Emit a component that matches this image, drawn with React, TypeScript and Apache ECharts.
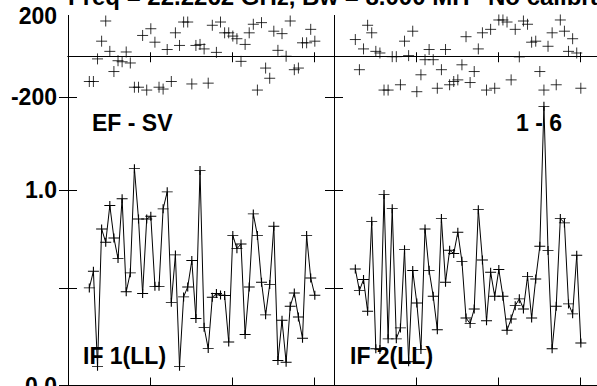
import React, { useEffect, useRef } from "react";
import * as echarts from "echarts";

// Time of each sample (minutes from start of the plotted interval)
const times = [
  2.6, 3.1, 3.6, 4.1, 4.6, 5.1, 5.6, 6.1, 6.6, 7.1, 7.6, 8.1, 8.6, 9.1,
  9.6, 10.1, 10.6, 11.1, 11.6, 12.1, 12.6, 13.1, 13.6, 14.1, 14.6, 15.1,
  15.6, 16.1, 16.6, 17.1, 17.6, 18.1, 18.6, 19.1, 19.6, 20.1, 20.6, 21.1,
  21.6, 22.1, 22.6, 23.1, 23.6, 24.1, 24.6, 25.1, 25.6, 26.1, 26.6, 27.1,
  27.6, 28.1, 28.6, 29.1, 29.6, 30.1,
];

// IF 1 (LL) amplitude
const amp1 = [
  0.5, 0.585, 0.098, 0.802, 0.734, 0.922, 0.756, 0.65, 0.957, 0.48,
  0.577, 1.111, 0.853, 0.471, 0.853, 0.867, 0.508, 0.508, 0.905, 0.992,
  0.426, 0.669, 0.098, 0.454, 0.505, 0.64, 0.343, 1.101, 0.298, 0.189,
  0.452, 0.471, 0.463, 0.461, 0.223, 0.769, 0.701, 0.725, 0.261, 0.505,
  0.879, 0.769, 0.529, 0.362, 0.517, 0.816, 0.128, 0.334, 0.119, 0.406,
  0.474, 0.351, 0.242, 0.768, 0.551, 0.462,
];

// IF 2 (LL) amplitude
const amp2 = [
  0.597, 0.486, 0.543, 0.38, 0.841, 0.188, 0.184, 0.978, 0.239, 0.906,
  0.239, 0.295, 0.696, 0.122, 0.589, 0.423, 0.184, 0.802, 0.59, 0.457,
  0.286, 0.855, 0.529, 0.693, 0.676, 0.785, 0.636, 0.346, 0.317, 0.392,
  0.901, 0.643, 0.332, 0.58, 0.457, 0.594, 0.457, 0.283, 0.341, 0.409,
  0.444, 0.392, 0.559, 0.346, 0.546, 0.713, 1.43, 0.691, 0.188, 0.406,
  0.855, 0.833, 0.418, 0.367, 0.667, 0.218,
];

// IF 1 (LL) phase, degrees
const phase1 = [
  -124, -124, -13, 74, 173, 24, -75, -22, -27, 21,
  -33, -152, -152, 102, -166, 135, 69, -152, -161, 33,
  -124, 115, 53, 168, 168, -136, 53, 58, 36, -132,
  152, 19, 168, 115, 115, 99, 86, -25, 58, 115,
  157, -166, 165, -58, -108, 123, 29, 111, 0, 173,
  -66, -58, 66, 66, 132, 74,
];

// IF 2 (LL) phase, degrees
const phase2 = [
  82, -66, 36, 152, 115, 24, 16, -166, -166, -2,
  -2, -140, 74, 3, 123, -174, -91, -17, 33, -17,
  -157, -66, 33, -140, -124, -116, -42, 96, -129, -75,
  36, 115, -166, 132, -157, 178, 178, 168, -116, 132,
  -3, 173, 157, 69, 74, -75, -166, 49, 115, -140,
  178, 123, 24, 86, 16, -157,
];

const titleText = "Freq = 22.2262 GHz, Bw = 8.000 MH";
const titleTail = "No calibra";
const baselineLabel = "EF - SV";
const timerangeLabel = "1 - 6";
const ifLabels = ["IF 1(LL)", "IF 2(LL)"];

const FONT = '"Liberation Sans", Arial, Helvetica, sans-serif';
const PLUS = "path://M0,5L10,5M5,0L5,10";

export default function App() {
  const ref = useRef<HTMLDivElement>(null);

  useEffect(() => {
    if (!ref.current) return;
    const chart = echarts.init(ref.current, null, { renderer: "svg" });

    const axisLine = { show: true, lineStyle: { color: "#000", width: 1 } };
    const noLabel = { show: false };

    const xAx = (grid: number, max: number, pos: "top" | "bottom", tickLen: number) => ({
      type: "value",
      gridIndex: grid,
      position: pos,
      min: 0,
      max,
      interval: 10,
      axisLine,
      axisTick: { show: true, inside: true, length: tickLen, lineStyle: { color: "#000", width: 1 } },
      axisLabel: noLabel,
      splitLine: { show: false },
    });

    const phaseY = (grid: number, pos: "left" | "right", labels: boolean) => ({
      type: "value",
      gridIndex: grid,
      position: pos,
      min: -200,
      max: 200,
      interval: 200,
      axisLine,
      axisTick: { show: false },
      axisLabel: labels
        ? {
            show: true,
            margin: 11,
            color: "#000",
            fontFamily: FONT,
            fontWeight: "bold",
            fontSize: 23,
            formatter: (v: number) => (v === 200 ? "200" : v === -200 ? "-200" : ""),
          }
        : noLabel,
      splitLine: { show: false },
    });

    const ampY = (grid: number, pos: "left" | "right", labels: boolean) => ({
      type: "value",
      gridIndex: grid,
      position: pos,
      min: 0,
      max: 1.478,
      interval: 0.5,
      axisLine,
      axisTick: { show: true, inside: true, length: 9, lineStyle: { color: "#000", width: 1 } },
      axisLabel: labels
        ? {
            show: true,
            margin: 11,
            color: "#000",
            fontFamily: FONT,
            fontWeight: "bold",
            fontSize: 23,
            formatter: (v: number) =>
              Math.abs(v - Math.round(v)) < 1e-9 ? v.toFixed(1) : "",
          }
        : noLabel,
      splitLine: { show: false },
    });

    const symStyle = { color: "none", borderColor: "#000", borderWidth: 1 };
    const zeroLine = {
      silent: true,
      symbol: "none",
      label: { show: false },
      lineStyle: { color: "#000", width: 1, type: "solid" },
      data: [{ yAxis: 0 }],
    };

    const textEl = (text: string, x: number, y: number, size: number) => ({
      type: "text",
      x,
      y,
      z: 0,
      style: {
        text,
        fill: "#000",
        font: `bold ${size}px ${FONT}`,
        align: "left",
        verticalAlign: "middle",
      },
    });

    const gridBase = { outerBoundsMode: "none", containLabel: false };

    chart.setOption({
      animation: false,
      backgroundColor: "#fff",
      grid: [
        { ...gridBase, left: 68, top: 15.5, width: 266, height: 81.5 },
        { ...gridBase, left: 334, top: 15.5, width: 267, height: 81.5 },
        { ...gridBase, left: 68, top: 97, width: 266, height: 288.5 },
        { ...gridBase, left: 334, top: 97, width: 267, height: 288.5 },
      ],
      xAxis: [
        xAx(0, 32.44, "bottom", 4),
        xAx(0, 32.44, "top", 6),
        xAx(1, 32.56, "bottom", 4),
        xAx(1, 32.56, "top", 6),
        xAx(2, 32.44, "bottom", 8),
        xAx(2, 32.44, "top", 8),
        xAx(3, 32.56, "bottom", 8),
        xAx(3, 32.56, "top", 8),
      ],
      yAxis: [
        phaseY(0, "left", true),
        phaseY(0, "right", false),
        phaseY(1, "left", false),
        phaseY(1, "right", false),
        ampY(2, "left", true),
        ampY(2, "right", false),
        ampY(3, "left", false),
        ampY(3, "right", false),
      ],
      series: [
        {
          type: "scatter",
          xAxisIndex: 0,
          yAxisIndex: 0,
          data: times.map((t, i) => [t, phase1[i]]),
          symbol: PLUS,
          symbolSize: [11, 11],
          itemStyle: symStyle,
          markLine: zeroLine,
        },
        {
          type: "scatter",
          xAxisIndex: 2,
          yAxisIndex: 2,
          data: times.map((t, i) => [t, phase2[i]]),
          symbol: PLUS,
          symbolSize: [11, 11],
          itemStyle: symStyle,
          markLine: zeroLine,
        },
        {
          type: "line",
          xAxisIndex: 4,
          yAxisIndex: 4,
          data: times.map((t, i) => [t, amp1[i]]),
          symbol: PLUS,
          symbolSize: [11, 9],
          showAllSymbol: true,
          itemStyle: symStyle,
          lineStyle: { color: "#000", width: 1 },
          z: 3,
        },
        {
          type: "line",
          xAxisIndex: 6,
          yAxisIndex: 6,
          data: times.map((t, i) => [t, amp2[i]]),
          symbol: PLUS,
          symbolSize: [11, 9],
          showAllSymbol: true,
          itemStyle: symStyle,
          lineStyle: { color: "#000", width: 1 },
          z: 3,
        },
      ],
      graphic: [
        textEl(titleText, 68, -3.3, 24),
        textEl(titleTail, 488, -3.3, 24),
        textEl(baselineLabel, 92, 122.5, 23),
        textEl(timerangeLabel, 516, 122.7, 23),
        textEl(ifLabels[0], 83, 355.5, 23),
        textEl(ifLabels[1], 350, 355.5, 23),
      ],
    });

    return () => chart.dispose();
  }, []);

  return (
    <div
      ref={ref}
      style={{ position: "fixed", left: 0, top: 0, width: 597, height: 386, background: "#fff" }}
    />
  );
}
